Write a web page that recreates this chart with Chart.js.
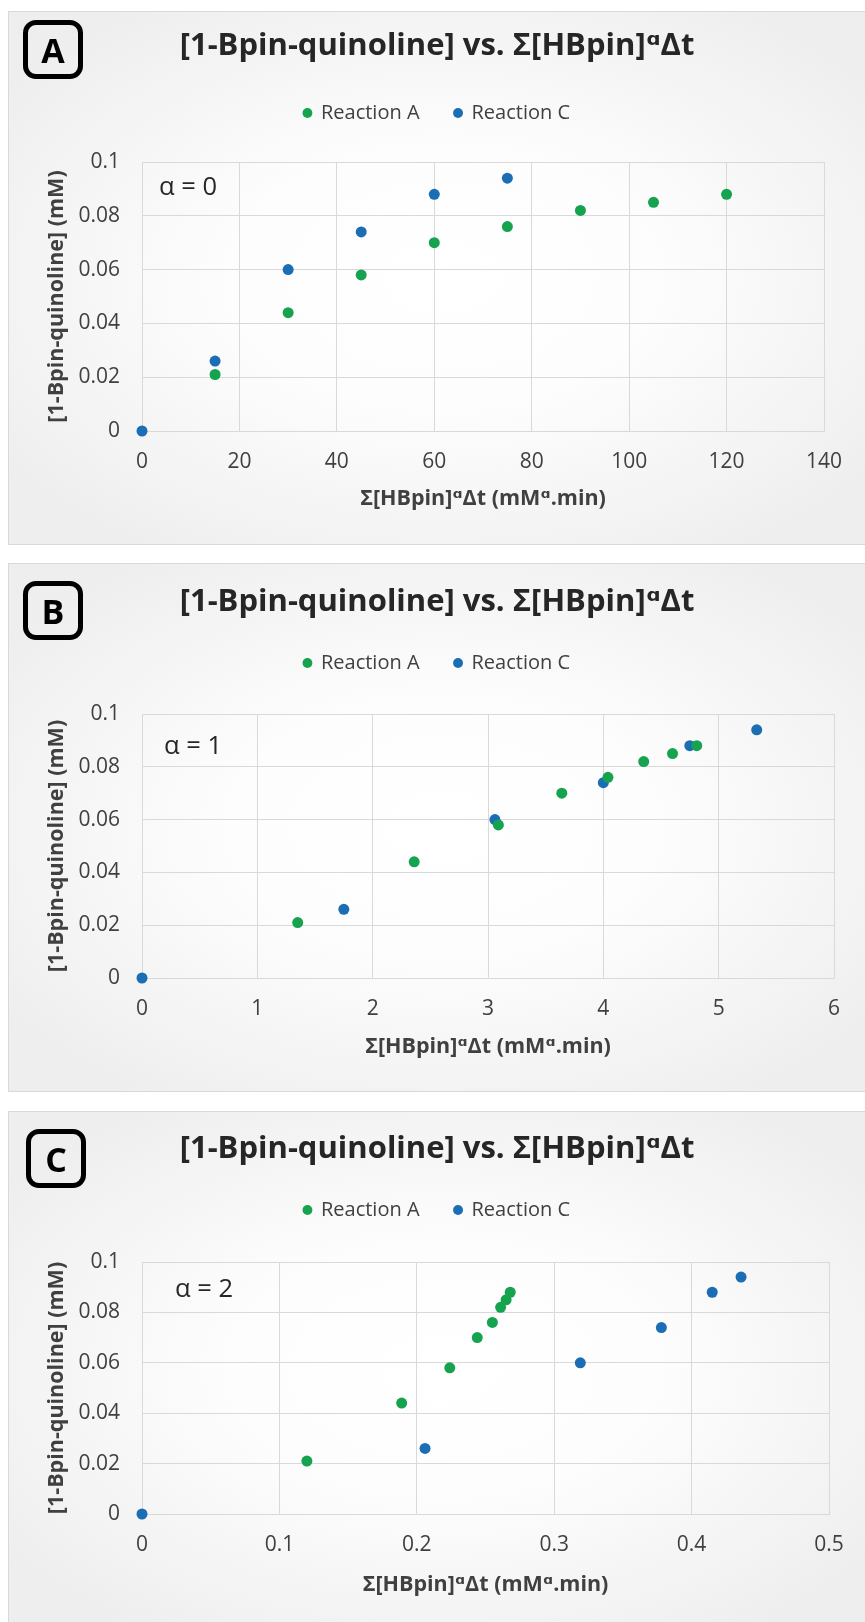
<!DOCTYPE html>
<html>
<head>
<meta charset="utf-8">
<title>[1-Bpin-quinoline] vs. Σ[HBpin]ᵅΔt</title>
<script src="https://cdn.jsdelivr.net/npm/chart.js@4.4.1/dist/chart.umd.min.js"></script>
<style>
  html, body { margin: 0; padding: 0; background: #ffffff; }
  body { position: relative; width: 865px; height: 1622px; overflow: hidden; font-family: "Open Sans", "DejaVu Sans", sans-serif; }
  .panel {
    position: absolute; left: 8px; width: 870px; box-sizing: border-box;
    border: 1px solid #d9d9d9;
    background: radial-gradient(ellipse 62% 62% at 50% 50%, #ffffff 0%, #fdfdfd 40%, #eeeeee 100%);
  }
  .panel canvas { position: absolute; left: 0; top: 0; }
  .tag {
    position: absolute; box-sizing: border-box; width: 60px; height: 59px;
    border: 5px solid #000; border-radius: 13px;
    display: flex; align-items: center; justify-content: center;
    font: bold 34px "Open Sans", "DejaVu Sans", sans-serif; color: #000; line-height: 1;
  }
</style>
</head>
<body>
<div class="panel" style="top:11px;height:534px"><canvas id="chartAlpha0" width="856" height="532"></canvas></div>
<div class="panel" style="top:563px;height:529px"><canvas id="chartAlpha1" width="856" height="527"></canvas></div>
<div class="panel" style="top:1111px;height:517px"><canvas id="chartAlpha2" width="856" height="515"></canvas></div>
<div class="tag" style="left:23px;top:20px">A</div>
<div class="tag" style="left:23px;top:581px">B</div>
<div class="tag" style="left:26px;top:1129px">C</div>

<script>
// Series names
const seriesNames = ['Reaction A', 'Reaction C'];

// [1-Bpin-quinoline] (mM) at each sampling point
const productA = [0.021, 0.044, 0.058, 0.070, 0.076, 0.082, 0.085, 0.088];
const productC = [0, 0.026, 0.060, 0.074, 0.088, 0.094];

// Σ[HBpin]^α·Δt for each sampling point (mM^α.min)
const sumA_alpha0 = [15, 30, 45, 60, 75, 90, 105, 120];
const sumC_alpha0 = [0, 15, 30, 45, 60, 75];
const sumA_alpha1 = [1.35, 2.36, 3.09, 3.64, 4.04, 4.35, 4.60, 4.81];
const sumC_alpha1 = [0, 1.75, 3.06, 4.00, 4.75, 5.33];
const sumA_alpha2 = [0.120, 0.189, 0.224, 0.244, 0.255, 0.261, 0.265, 0.268];
const sumC_alpha2 = [0, 0.206, 0.319, 0.378, 0.415, 0.436];

// Tick labels
const yTickLabels = ['0', '0.02', '0.04', '0.06', '0.08', '0.1'];
const xTickLabelsAlpha0 = ['0', '20', '40', '60', '80', '100', '120', '140'];
const xTickLabelsAlpha1 = ['0', '1', '2', '3', '4', '5', '6'];
const xTickLabelsAlpha2 = ['0', '0.1', '0.2', '0.3', '0.4', '0.5'];

// Text
const chartTitle = '[1-Bpin-quinoline] vs. Σ[HBpin]ᵅΔt';
const xAxisTitle = 'Σ[HBpin]ᵅΔt (mMᵅ.min)';
const yAxisTitle = '[1-Bpin-quinoline] (mM)';

// Styling
const FONT = '"Open Sans", "DejaVu Sans", sans-serif';
const GREEN = '#16a34f';
const BLUE = '#1b6db4';
const GRID = '#d9d9d9';
const TEXT = '#404040';

const TITLE_SIZE = 31;      // title font, line height 1
const LEGEND_SIZE = 20;     // legend font
const LEGEND_PAD = 35;      // legend item spacing
const PLOT_TOP = 150;       // top of plot area inside each canvas

Chart.defaults.font.family = FONT;

function toPoints(xs, ys) {
  return xs.map((x, i) => ({ x: x, y: ys[i] }));
}

// Writes the α value in the upper-left corner of the plot area
const alphaNote = {
  id: 'alphaNote',
  afterDraw(chart, args, opts) {
    const { ctx, chartArea } = chart;
    ctx.save();
    ctx.font = '25.5px ' + FONT;
    ctx.fillStyle = '#262626';
    ctx.textAlign = 'left';
    ctx.textBaseline = 'middle';
    ctx.fillText(opts.text, chartArea.left + opts.dx, chartArea.top + opts.dy);
    ctx.restore();
  }
};

function makeChart(canvasId, cfg) {
  const dataset = (label, pts, color) => ({
    label: label,
    data: pts,
    showLine: false,
    pointRadius: 5.5,
    pointHoverRadius: 5.5,
    pointBorderWidth: 0,
    pointBackgroundColor: color,
    backgroundColor: color,
    borderColor: color,
    pointStyle: 'circle',
    clip: false
  });

  // vertical placement of the header rows (title centre, legend centre)
  const half = TITLE_SIZE / 2;
  const titlePadTop = cfg.titleY - half;
  const titlePadBottom = cfg.legendY - cfg.titleY - half - LEGEND_SIZE / 2 - LEGEND_PAD;
  const legendBottom = cfg.legendY + LEGEND_SIZE / 2 + 10;
  const gapBelowLegend = PLOT_TOP - legendBottom;

  return new Chart(document.getElementById(canvasId), {
    type: 'scatter',
    data: {
      datasets: [
        dataset(seriesNames[0], toPoints(cfg.xA, productA), GREEN),
        dataset(seriesNames[1], toPoints(cfg.xC, productC), BLUE)
      ]
    },
    options: {
      responsive: false,
      animation: false,
      events: [],
      layout: { padding: 0 },
      plugins: {
        title: {
          display: true,
          text: chartTitle,
          color: '#262626',
          font: { family: FONT, size: TITLE_SIZE, weight: 'bold', lineHeight: 1 },
          padding: { top: titlePadTop, bottom: titlePadBottom }
        },
        legend: {
          display: true,
          position: 'top',
          align: 'center',
          labels: {
            usePointStyle: true,
            pointStyle: 'circle',
            boxWidth: 7,
            boxHeight: 7,
            padding: LEGEND_PAD,
            color: TEXT,
            font: { family: FONT, size: LEGEND_SIZE }
          }
        },
        // empty row that keeps the legend clear of the plot area
        subtitle: {
          display: true,
          text: '',
          weight: 500,
          font: { size: 1, lineHeight: 1 },
          padding: { top: 0, bottom: gapBelowLegend - 1 }
        },
        tooltip: { enabled: false },
        alphaNote: { text: cfg.note, dx: cfg.noteDx, dy: cfg.noteDy }
      },
      scales: {
        x: {
          type: 'linear',
          min: 0,
          max: cfg.xMax,
          ticks: {
            stepSize: cfg.xStep,
            autoSkip: false,
            maxRotation: 0,
            padding: 18,
            color: TEXT,
            font: { family: FONT, size: 21 },
            callback: (v, i) => cfg.xLabels[i]
          },
          grid: { color: GRID, lineWidth: 1, drawTicks: false },
          border: { color: GRID, width: 1 },
          title: {
            display: true,
            text: xAxisTitle,
            color: TEXT,
            font: { family: FONT, size: 21.5, weight: 'bold' },
            padding: { top: 0, bottom: cfg.xTitlePad }
          },
          afterFit: (s) => { s.height = 113; s.paddingRight = cfg.padRight; }
        },
        y: {
          type: 'linear',
          min: 0,
          max: 0.1,
          ticks: {
            stepSize: 0.02,
            padding: 22,
            color: TEXT,
            font: { family: FONT, size: 21 },
            callback: (v, i) => yTickLabels[i]
          },
          grid: { color: GRID, lineWidth: 1, drawTicks: false },
          border: { color: GRID, width: 1 },
          title: {
            display: true,
            text: yAxisTitle,
            color: TEXT,
            font: { family: FONT, size: 21.5, weight: 'bold' },
            padding: { top: 35, bottom: 0 }
          },
          afterFit: (s) => { s.width = 133; }
        }
      }
    },
    plugins: [alphaNote]
  });
}

makeChart('chartAlpha0', {
  xA: sumA_alpha0, xC: sumC_alpha0, xMax: 140, xStep: 20, xLabels: xTickLabelsAlpha0,
  note: 'α = 0', noteDx: 17, noteDy: 26, padRight: 41,
  titleY: 34, legendY: 101, xTitlePad: 32
});
makeChart('chartAlpha1', {
  xA: sumA_alpha1, xC: sumC_alpha1, xMax: 6, xStep: 1, xLabels: xTickLabelsAlpha1,
  note: 'α = 1', noteDx: 22, noteDy: 33, padRight: 31,
  titleY: 38, legendY: 99, xTitlePad: 31
});
makeChart('chartAlpha2', {
  xA: sumA_alpha2, xC: sumC_alpha2, xMax: 0.5, xStep: 0.1, xLabels: xTickLabelsAlpha2,
  note: 'α = 2', noteDx: 33, noteDy: 28, padRight: 36,
  titleY: 37, legendY: 98, xTitlePad: 29
});
</script>
</body>
</html>
